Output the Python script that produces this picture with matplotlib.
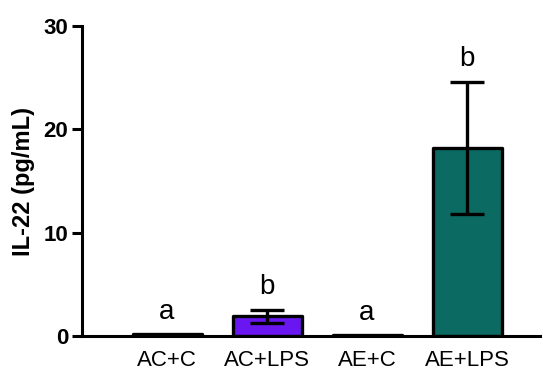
import matplotlib
matplotlib.use("Agg")
import matplotlib.pyplot as plt
import numpy as np

plt.rcParams['font.family'] = ['Liberation Sans', 'DejaVu Sans']

# IL-22 concentration per treatment group (mean ± SEM)
groups = ["AC+C", "AC+LPS", "AE+C", "AE+LPS"]
means = [0.15, 1.9, 0.1, 18.2]
sems = [0.0, 0.65, 0.0, 6.4]
letters = ["a", "b", "a", "b"]
colors = ["#ffffff", "#6a16f0", "#ffffff", "#0b6b62"]

fig = plt.figure(figsize=(5.43, 3.72), dpi=100)
ax = fig.add_axes([82 / 543, 36 / 372, (540 - 82) / 543, (336 - 26) / 372])

x = np.arange(len(groups))
bars = ax.bar(x, means, width=0.69, color=colors, edgecolor="black", linewidth=2.4, zorder=2)
for b in bars:
    b.set_joinstyle("round")
ax.errorbar(x[[1, 3]], [means[1], means[3]], yerr=[sems[1], sems[3]], fmt="none",
            ecolor="black", elinewidth=2.4, capsize=12, capthick=2.4, zorder=3)

# significance letters above each bar
for xi, m, s, t in zip(x, means, sems, letters):
    ax.text(xi, m + s + 0.9, t, ha="center", va="bottom", fontsize=20)

ax.set_xlim(-0.85, 3.73)
ax.set_ylim(0, 30)
ax.set_yticks([0, 10, 20, 30])
ax.set_xticks(x)
ax.set_xticklabels(groups, fontsize=16)
ax.tick_params(axis="x", length=0, pad=10)
ax.tick_params(axis="y", length=7, width=2.2, labelsize=16, pad=3)
for lbl in ax.get_yticklabels():
    lbl.set_fontweight("bold")
ax.set_ylabel("IL-22 (pg/mL)", fontsize=17, fontweight="bold", labelpad=6)

for side in ["top", "right"]:
    ax.spines[side].set_visible(False)
for side in ["left", "bottom"]:
    ax.spines[side].set_linewidth(2.2)

fig.savefig("out.png", dpi=100)
